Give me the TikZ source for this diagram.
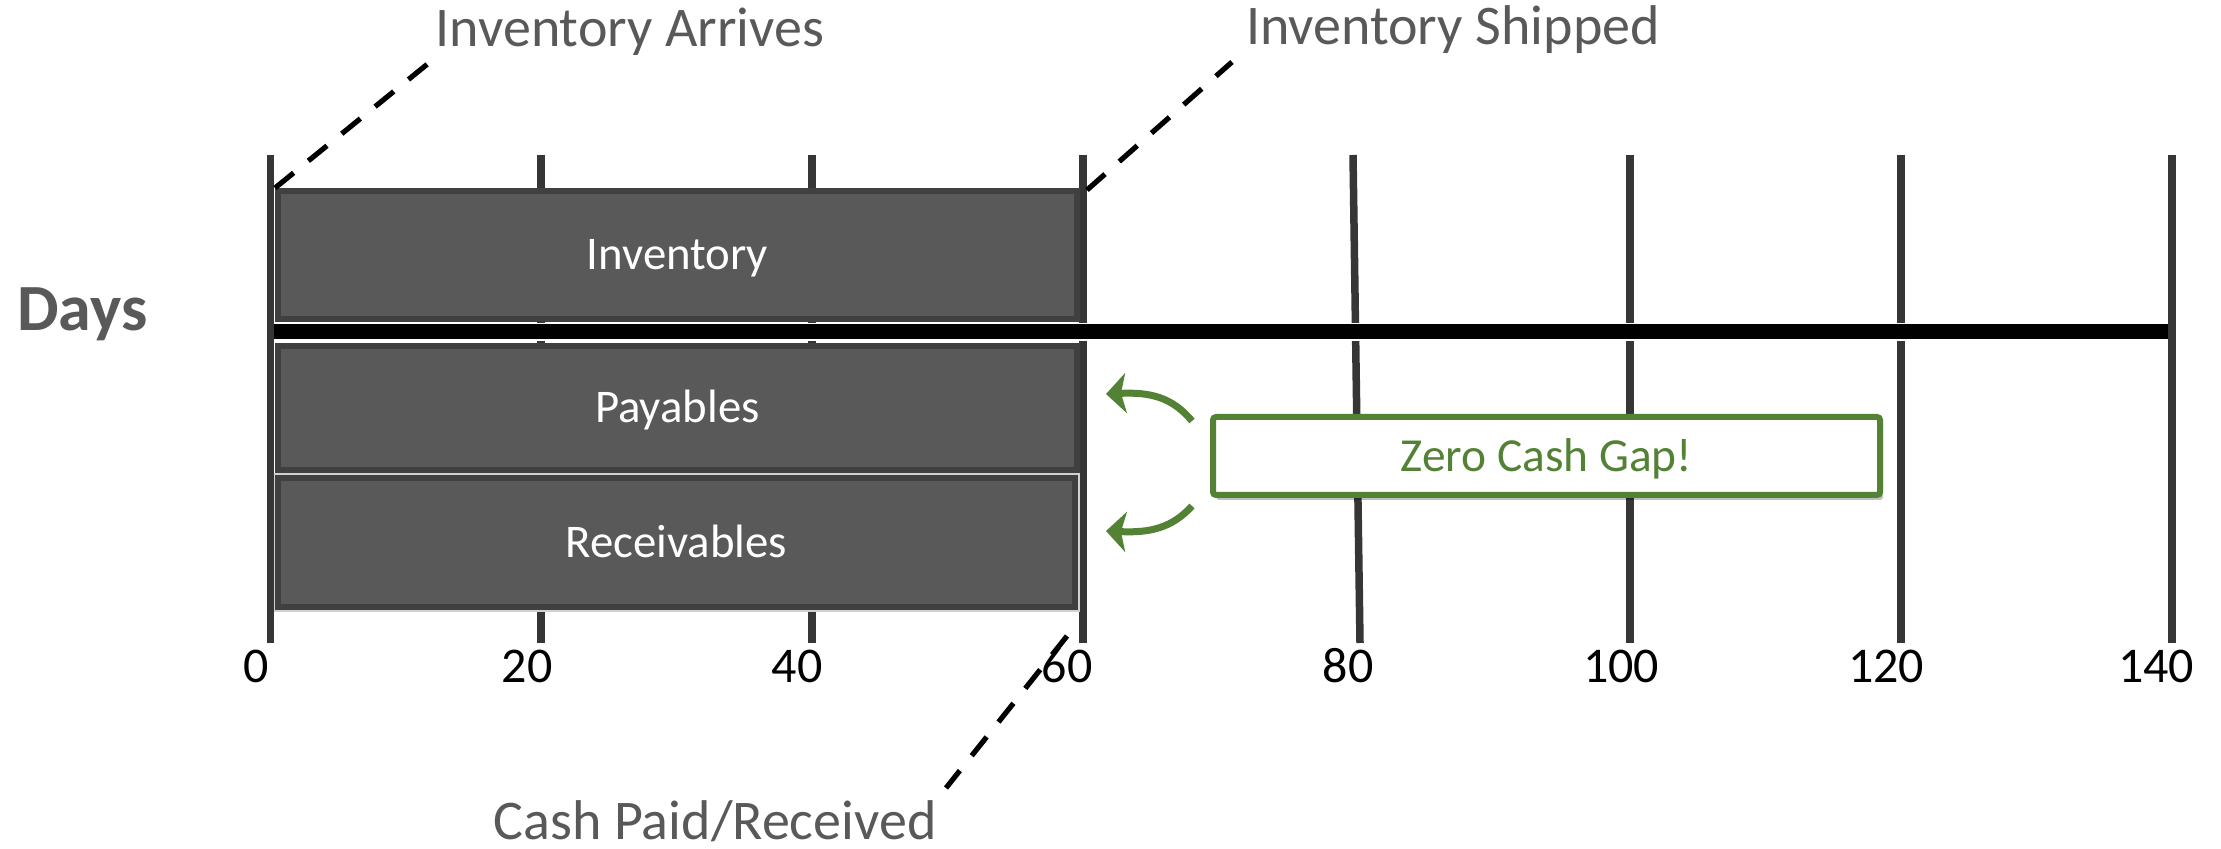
\documentclass[tikz,border=0pt]{standalone}
\usepackage{fontspec}
\setmainfont{Carlito}
\usetikzlibrary{arrows.meta,shadows}
\definecolor{tickc}{HTML}{363636}
\definecolor{boxfill}{HTML}{595959}
\definecolor{boxline}{HTML}{404040}
\definecolor{labelgray}{HTML}{595959}
\definecolor{gapgreen}{HTML}{548235}
\begin{document}
\begin{tikzpicture}[x=0.5pt,y=-0.5pt,
  tickline/.style={draw=tickc,line width=3.75pt},
  bar/.style={draw=boxline,fill=boxfill,line width=3pt,inner xsep=0pt,inner ysep=0pt,
    text=white,font=\fontsize{23.4}{28}\selectfont,text height=15pt,text depth=0pt},
  ticklab/.style={anchor=base,inner sep=0pt,font=\fontsize{25}{30}\selectfont},
  callout/.style={anchor=base,inner sep=0pt,text=labelgray,font=\fontsize{28}{34}\selectfont},
  leader/.style={draw=black,line width=2.6pt,dash pattern=on 12pt off 9.5pt},
  gaparrow/.style={draw=gapgreen,line width=3.5pt,-{Stealth[length=10pt,width=20pt,inset=2.5pt]}}
]
\useasboundingbox (0,0) rectangle (2221,849);
% ticks
\foreach \xt/\xb in {270.5/270.5,541/541,812/812,1083/1083,1353/1360,1630/1630,1901/1901,2172/2172}
  \draw[tickline] (\xt,155) -- (\xb,643);
% bars
\node[bar,minimum width=399.5pt,minimum height=64pt] (inv) at (677.5,255) {Inventory};
\node[bar,minimum width=399.5pt,minimum height=62pt] (pay) at (677.5,408) {Payables};
\node[bar,minimum width=398.5pt,minimum height=64.5pt,preaction={draw=black!18,line width=4.5pt}] (rec) at (676.5,542.5) {Receivables};
% days axis
\coordinate (ax0) at (274,332);
\coordinate (ax1) at (2168,332);
\draw[white,line width=9pt] (ax0) -- (ax1);
\draw[black,line width=7.5pt] (ax0) -- (ax1);
% labels
\node[anchor=base west,inner sep=0pt,text=labelgray,font=\fontsize{33}{38}\selectfont\bfseries] (days) at (17,331) {Days};
\node[ticklab] (l0) at (256,682) {0};
\node[ticklab] (l20) at (527,682) {20};
\node[ticklab] (l40) at (797,682) {40};
\node[ticklab] (l60) at (1067,682) {60};
\node[ticklab] (l80) at (1348,682) {80};
\node[ticklab] (l100) at (1621,682) {100};
\node[ticklab] (l120) at (1886,682) {120};
\node[ticklab] (l140) at (2156,682) {140};
% callouts
\node[callout] (arr) at (630,47) {Inventory Arrives};
\node[callout] (shp) at (1453,45) {Inventory Shipped};
\node[callout] (cash) at (715,839) {Cash Paid/Received};
\coordinate (arrEnd) at (430,62);
\coordinate (shpStart) at (1087,190);
\coordinate (shpEnd) at (1232,62);
\coordinate (cashStart) at (1067,636);
\coordinate (cashEnd) at (946,788);
\draw[leader] (inv.north west) -- (arrEnd);
\draw[leader] (shpStart) -- (shpEnd);
\draw[leader] (cashStart) -- (cashEnd);
% zero cash gap
\node[draw=gapgreen,line width=3pt,fill=white,rounded corners=1.5pt,minimum width=333.5pt,minimum height=39pt,
  inner sep=0pt,text=gapgreen,font=\fontsize{23.7}{28}\selectfont,text height=15.2pt,text depth=0pt,
  drop shadow={shadow xshift=1.5pt,shadow yshift=-2.5pt,opacity=0.25,fill=black}] (gap) at (1546.5,456) {Zero Cash Gap!};
\coordinate (upTail) at (1192,421);
\coordinate (upTip) at (1106,394);
\coordinate (dnTail) at (1192,506);
\coordinate (dnTip) at (1106,531);
\draw[gaparrow] (upTail) .. controls (1172,397) and (1150,392) .. (upTip);
\draw[gaparrow] (dnTail) .. controls (1172,528) and (1150,533) .. (dnTip);
\end{tikzpicture}
\end{document}
